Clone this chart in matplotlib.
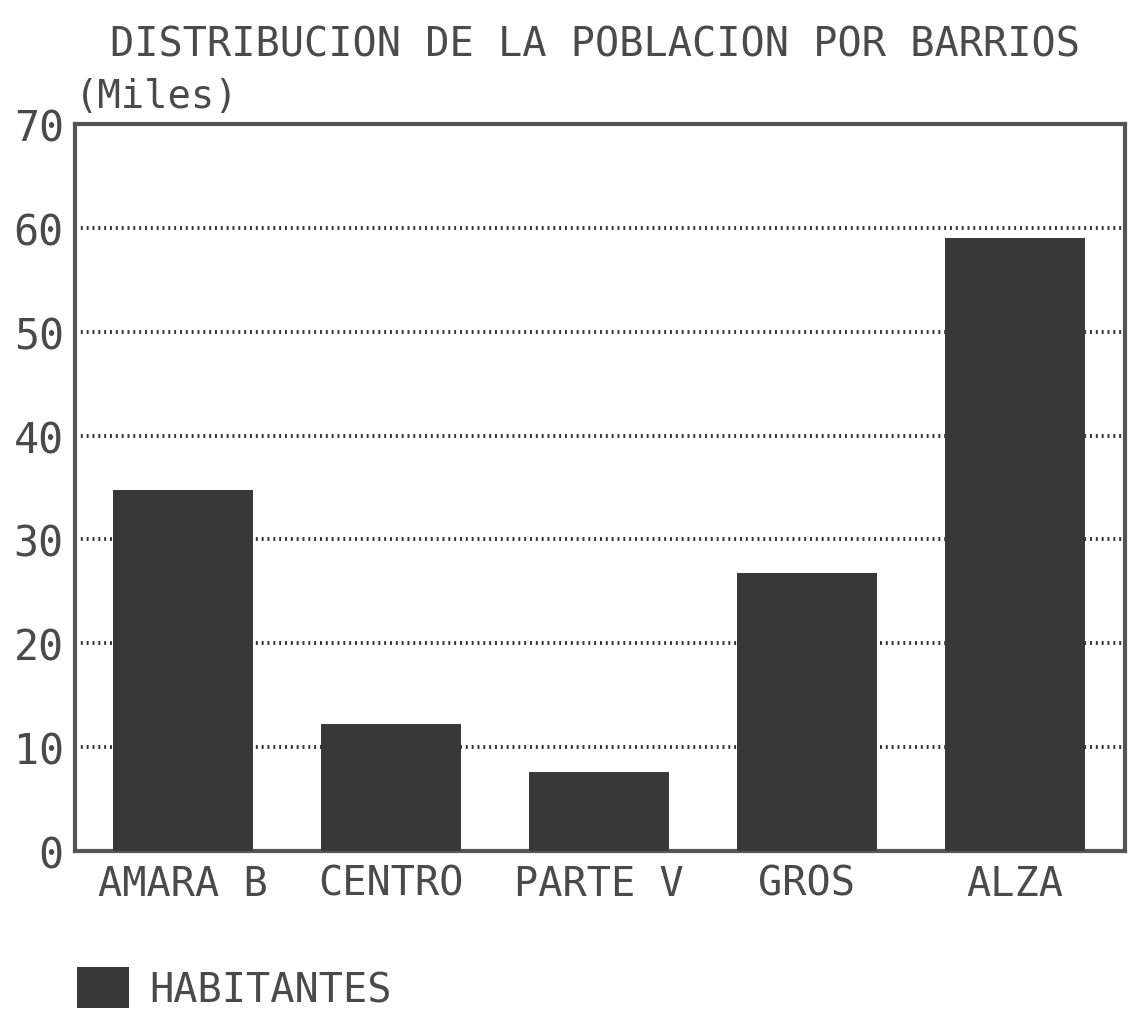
import matplotlib
matplotlib.use("Agg")
import matplotlib.pyplot as plt
import numpy as np

# data (thousands of inhabitants)
barrios = ["AMARA B", "CENTRO", "PARTE V", "GROS", "ALZA"]
habitantes = [34.8, 12.2, 7.6, 26.8, 59.0]
yticks = [0, 10, 20, 30, 40, 50, 60, 70]

ink = "#4a4a4a"
bar_col = "#383838"
plt.rcParams['font.family'] = ['DejaVu Sans Mono']

fig = plt.figure(figsize=(11.33, 10.12), dpi=100)
ax = fig.add_axes([0.066, 0.158, 0.927, 0.7185])

x = np.arange(len(barrios))
ax.bar(x, habitantes, width=0.67, color=bar_col, zorder=3, label="HABITANTES")

ax.set_xlim(-0.52, 4.53)
ax.set_ylim(0, 70)
ax.set_yticks(yticks)
ax.set_yticklabels([str(v) for v in yticks], fontsize=30, color=ink)
ax.set_xticks(x)
ax.set_xticklabels(barrios, fontsize=29, color=ink)
ax.tick_params(length=0)
ax.tick_params(axis="x", pad=9)
ax.tick_params(axis="y", pad=8)

# dotted grid behind the bars
for v in yticks[1:-1]:
    ax.axhline(v, color="#333333", lw=2.8, ls=(0, (0.5, 1.0)), zorder=1)

for s in ax.spines.values():
    s.set_linewidth(3)
    s.set_color("#555555")

fig.text(0.525, 0.955, "DISTRIBUCION DE LA POBLACION POR BARRIOS",
         ha="center", va="center", fontsize=29, color=ink)
fig.text(0.066, 0.885, "(Miles)", ha="left", va="bottom", fontsize=28, color=ink)

fig.legend(loc="lower left", bbox_to_anchor=(0.036, -0.035), frameon=False,
           fontsize=29, handlelength=1.3, handleheight=1.2, handletextpad=0.5,
           labelcolor=ink)

fig.savefig("out.png", dpi=100)
